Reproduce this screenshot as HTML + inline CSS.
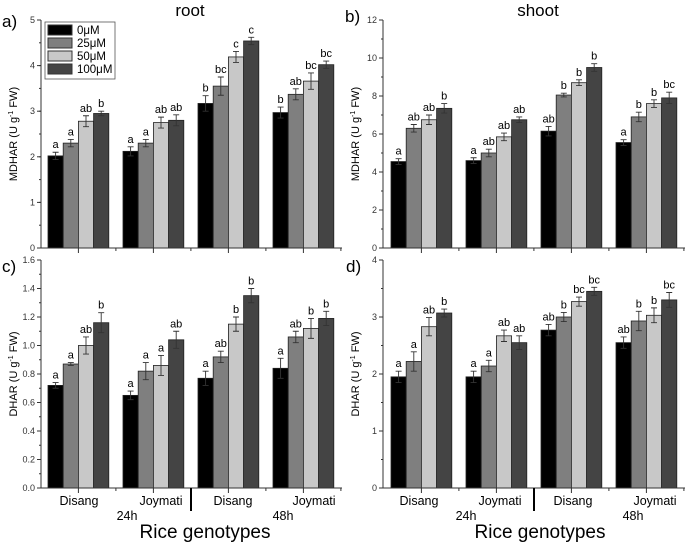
<!DOCTYPE html>
<html><head><meta charset="utf-8"><style>
body{margin:0;background:#fff}svg{display:block;font-family:"Liberation Sans",Arial,sans-serif}
</style></head><body>
<svg id="fig" width="685" height="543" viewBox="0 0 685 543">
<text x="190" y="16" font-size="17" text-anchor="middle">root</text>
<text x="538" y="16" font-size="17" text-anchor="middle">shoot</text>
<text x="2" y="27" font-size="17">a)</text>
<text x="345" y="22" font-size="17">b)</text>
<text x="2" y="272" font-size="17">c)</text>
<text x="346" y="272" font-size="17">d)</text>
<g>
<rect x="45" y="22" width="70" height="57" fill="#fff" stroke="#555" stroke-width="0.8"/>
<rect x="48" y="25" width="24" height="10" fill="#000" stroke="#333"/><text x="77" y="34" font-size="11.5">0μM</text>
<rect x="48" y="38" width="24" height="10" fill="#7f7f7f" stroke="#333"/><text x="77" y="47" font-size="11.5">25μM</text>
<rect x="48" y="51" width="24" height="10" fill="#c8c8c8" stroke="#333"/><text x="77" y="60" font-size="11.5">50μM</text>
<rect x="48" y="64" width="24" height="10" fill="#444" stroke="#333"/><text x="77" y="73" font-size="11.5">100μM</text>
</g>
</svg>
<script>
const colors=["#000000","#7f7f7f","#c8c8c8","#444444"];
const aVals=[[2.02,2.3,2.78,2.95],[2.12,2.3,2.75,2.8],[3.17,3.55,4.19,4.54],[2.97,3.37,3.66,4.02]];
const aErr=[[.08,.08,.12,.05],[.1,.08,.12,.12],[.17,.2,.12,.08],[.12,.12,.18,.08]];
const aLet=[["a","a","ab","b"],["a","a","ab","ab"],["b","bc","c","c"],["b","ab","bc","bc"]];
const bVals=[[4.55,6.3,6.75,7.35],[4.6,5.0,5.85,6.75],[6.15,8.05,8.7,9.5],[5.55,6.9,7.6,7.9]];
const bErr=[[.15,.2,.25,.25],[.15,.2,.2,.15],[.25,.1,.15,.2],[.15,.25,.2,.3]];
const bLet=[["a","ab","ab","b"],["a","ab","ab","ab"],["ab","b","b","b"],["a","b","b","bc"]];
const cVals=[[.72,.87,1.0,1.16],[.65,.82,.86,1.04],[.77,.92,1.15,1.35],[.84,1.06,1.12,1.19]];
const cErr=[[.02,.01,.06,.07],[.03,.06,.07,.06],[.05,.04,.05,.05],[.07,.04,.07,.05]];
const cLet=[["a","a","ab","b"],["a","a","a","ab"],["a","ab","b","b"],["a","ab","b","b"]];
const dVals=[[1.95,2.22,2.83,3.07],[1.95,2.14,2.67,2.55],[2.77,3.0,3.27,3.45],[2.55,2.93,3.03,3.3]];
const dErr=[[.1,.17,.16,.07],[.1,.1,.1,.12],[.1,.08,.08,.07],[.1,.17,.13,.13]];
const dLet=[["a","a","ab","b"],["a","a","ab","ab"],["ab","b","bc","bc"],["ab","b","b","bc"]];
const aTicks=[0,1,2,3,4,5],bTicks=[0,2,4,6,8,10,12],cTicks=[0,0.2,0.4,0.6,0.8,1.0,1.2,1.4,1.6],dTicks=[0,1,2,3,4];
const groupNames=["Disang","Joymati","Disang","Joymati"];
const NS="http://www.w3.org/2000/svg";const svg=document.getElementById("fig");
function mk(t,a,p){const e=document.createElementNS(NS,t);for(const k in a)e.setAttribute(k,a[k]);(p||svg).appendChild(e);return e;}
function panel(id,ax,top,bot,xEnd,gStart,ymax,ticks,minor,vals,errs,lets,ytitle,dec,xlab){
 const g=mk("g",{});
 
 
 const y=v=>bot-(v/ymax)*(bot-top);const bw=15.2,gs=75;
 vals.forEach((gr,i)=>gr.forEach((v,j)=>{
  const x=gStart+i*gs+j*bw;
  const r=mk("rect",{x:x,y:y(v),width:bw,height:bot-y(v),fill:colors[j],stroke:"#222","stroke-width":0.8},g);
  
  
  const cx=x+bw/2,e=errs[i][j];
  mk("path",{d:`M${cx} ${y(v+e)}V${y(v-e)}M${cx-3} ${y(v+e)}H${cx+3}M${cx-3} ${y(v-e)}H${cx+3}`,stroke:"#333","stroke-width":0.9,fill:"none"},g);
  const t=mk("text",{x:cx,y:y(v+e)-4,"font-size":11,"text-anchor":"middle"},g);t.textContent=lets[i][j];
 }));
 mk("path",{d:`M${ax} ${top}V${bot}H${xEnd}`,stroke:"#333","stroke-width":1,fill:"none"},g);
 for(let v=0;v<=ymax+1e-9;v+=minor){mk("line",{x1:ax-2,x2:ax,y1:y(v),y2:y(v),stroke:"#333"},g);}
 ticks.forEach(v=>{mk("line",{x1:ax-4,x2:ax,y1:y(v),y2:y(v),stroke:"#333"},g);
  const t=mk("text",{x:ax-6,y:y(v)+3,"font-size":9,"text-anchor":"end",fill:"#333"},g);t.textContent=v.toFixed(dec);});
 for(let i=0;i<4;i++){const c=gStart+i*gs+2*bw;mk("line",{x1:c,x2:c,y1:bot,y2:bot+5,stroke:"#333"},g);
  mk("line",{x1:c+gs/2,x2:c+gs/2,y1:bot,y2:bot+3,stroke:"#333"},g);}
 const yt=mk("text",{x:0,y:0,"font-size":11,"text-anchor":"middle",transform:`translate(${ax-24},${(top+bot)/2}) rotate(-90)`},g);
 yt.innerHTML=ytitle+" (U g<tspan font-size='7' dy='-4'>-1</tspan><tspan dy='4'> FW)</tspan>";
 if(xlab){xlab.names.forEach((n,i)=>{const t=mk("text",{x:xlab.cx[i],y:bot+17,"font-size":12.5,"text-anchor":"middle"},g);t.textContent=n;});
  const t1=mk("text",{x:xlab.h[0],y:bot+32,"font-size":12.5,"text-anchor":"middle"},g);t1.textContent="24h";
  const t2=mk("text",{x:xlab.h[1],y:bot+32,"font-size":12.5,"text-anchor":"middle"},g);t2.textContent="48h";
  mk("line",{x1:xlab.sep,x2:xlab.sep,y1:bot,y2:bot+23,stroke:"#000","stroke-width":2},g);
  const rg=mk("text",{x:xlab.rg,y:bot+50,"font-size":19,"text-anchor":"middle"},g);rg.textContent="Rice genotypes";
  
  }
}
panel("panel-a-root-mdhar",41,20,248,342,48,5,aTicks,0.5,aVals,aErr,aLet,"MDHAR",0,null);
panel("panel-b-shoot-mdhar",383,20,248,685,391,12,bTicks,1,bVals,bErr,bLet,"MDHAR",0,null);
panel("panel-c-root-dhar",41,260,488,342,48,1.6,cTicks,0.1,cVals,cErr,cLet,"DHAR",1,{names:groupNames,cx:[79,161,233,314],h:[127,283],sep:191,rg:205});
panel("panel-d-shoot-dhar",383,260,488,685,391,4,dTicks,0.5,dVals,dErr,dLet,"DHAR",0,{names:groupNames,cx:[419,500,573,655],h:[466,633],sep:534,rg:540});
</script>
</body></html>
